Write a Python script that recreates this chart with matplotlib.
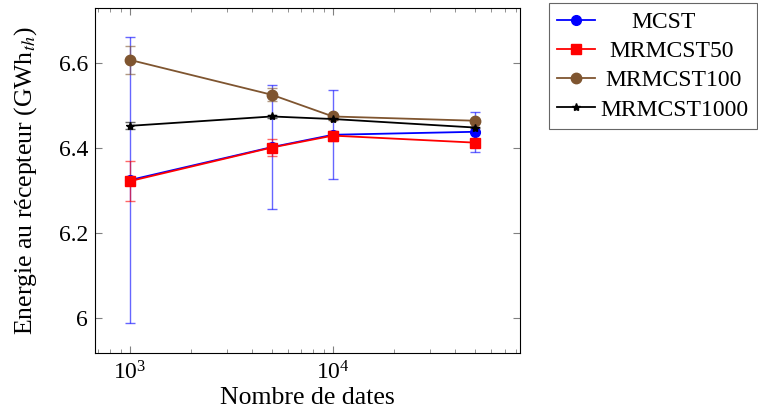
import matplotlib
matplotlib.use('Agg')
import matplotlib.pyplot as plt
from matplotlib.ticker import LogLocator, FixedLocator

plt.rcParams['font.family'] = ['Liberation Serif', 'DejaVu Serif']
plt.rcParams['mathtext.fontset'] = 'stix'

# Données
nb_dates = [1000, 5000, 10000, 50000]

mcst = [6.3245, 6.402, 6.431, 6.438]
mcst_err = [0.337, 0.146, 0.105, 0.047]

mrmcst50 = [6.322, 6.401, 6.429, 6.4125]
mrmcst50_err = [0.047, 0.02, 0.012, 0.0]

mrmcst100 = [6.607, 6.525, 6.474, 6.464]
mrmcst100_err = [0.032, 0.015, 0.004, 0.0]

mrmcst1000 = [6.452, 6.474, 6.468, 6.448]
mrmcst1000_err = [0.008, 0.003, 0.003, 0.002]

series = [
    ('MCST', mcst, mcst_err, '#0000ff', 'o', 7),
    ('MRMCST50', mrmcst50, mrmcst50_err, '#ff0000', 's', 6.5),
    ('MRMCST100', mrmcst100, mrmcst100_err, '#7f5530', 'o', 7.5),
    ('MRMCST1000', mrmcst1000, mrmcst1000_err, '#000000', '*', 6),
]

fig = plt.figure(figsize=(7.58, 4.12), dpi=100)
ax = fig.add_axes([0.1253, 0.1432, 0.5607, 0.8374])

for nom, val, err, col, mk, ms in series:
    ax.errorbar(nb_dates, val, yerr=err, color=col, ecolor=col,
                elinewidth=1.0, capsize=3.5, capthick=1.0,
                fmt='none', zorder=2)
    for art in ax.containers[-1].get_children():
        art.set_alpha(0.6)
    ax.plot(nb_dates, val, color=col, marker=mk, markersize=ms,
            linewidth=1.3, label=nom, zorder=3)

ax.set_xscale('log')
ax.set_xlim(673, 83400)
ax.set_ylim(5.918, 6.729)
ax.yaxis.set_major_locator(FixedLocator([6.0, 6.2, 6.4, 6.6]))
ax.set_yticklabels(['6', '6.2', '6.4', '6.6'])
ax.xaxis.set_major_locator(LogLocator(base=10))
ax.xaxis.set_minor_locator(LogLocator(base=10, subs=range(2, 10)))

ax.tick_params(which='both', direction='in', top=True, right=True,
               color='#808080', labelsize=17)
ax.tick_params(which='major', length=5)
ax.tick_params(which='minor', length=3)
ax.tick_params(axis='y', pad=5)
ax.tick_params(axis='x', pad=6)
for sp in ax.spines.values():
    sp.set_linewidth(0.8)

ax.set_xlabel('Nombre de dates', fontsize=18.5, labelpad=2)
ax.set_ylabel(r'Energie au récepteur (GWh$_{\mathit{th}}$)', fontsize=18.5, labelpad=14)

leg = ax.legend(loc='upper left', bbox_to_anchor=(1.068, 1.0145),
                fontsize=17, frameon=True, fancybox=False,
                edgecolor='#404040', handlelength=1.6, borderpad=0.35,
                labelspacing=0.33, handletextpad=0.25, borderaxespad=0)
leg.get_frame().set_linewidth(0.8)

# centrer les libellés de la légende comme dans pgfplots
fig.canvas.draw()
rend = fig.canvas.get_renderer()
textes = leg.get_texts()
larg = [t.get_window_extent(rend).width for t in textes]
lmax = max(larg)
for t, w in zip(textes, larg):
    t.set_position(((lmax - w) / 2 * 72 / fig.dpi, 0))

fig.savefig('out.png', dpi=100)
